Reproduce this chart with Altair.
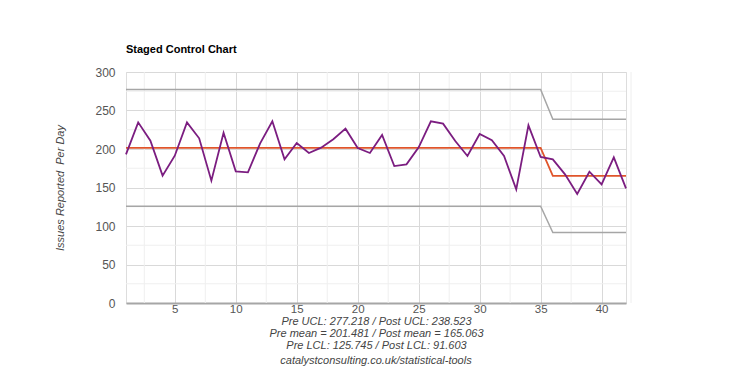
import altair as alt
import pandas as pd

# Observations (day index 1..42)
days = list(range(1, 43))
values = [193, 234.6, 210.8, 165.4, 191.3, 234.6, 213.9, 158.9, 221.2, 171,
          169.7, 207.4, 236, 186.6, 207.8, 194.8, 201.7, 212.6, 226.4, 201.3,
          194.8, 218.2, 177.9, 180.1, 202.2, 236, 232.9, 210.4, 190.9, 219.5,
          211.3, 190.9, 147.6, 230.7, 189.6, 186.6, 167.1, 141.6, 170.5, 154.1,
          189.2, 148.9]

# Stage statistics
pre_n = 35
pre_ucl, post_ucl = 277.218, 238.523
pre_mean, post_mean = 201.481, 165.063
pre_lcl, post_lcl = 125.745, 91.603

ucl = [pre_ucl if d <= pre_n else post_ucl for d in days]
mean = [pre_mean if d <= pre_n else post_mean for d in days]
lcl = [pre_lcl if d <= pre_n else post_lcl for d in days]

# Axis ticks and minor gridlines
x_major = [5, 10, 15, 20, 25, 30, 35, 40]
x_minor = [2.5, 7.5, 12.5, 17.5, 22.5, 27.5, 32.5, 37.5]
y_major = [0, 50, 100, 150, 200, 250, 300]
y_minor = [25, 75, 125, 175, 225, 275]

source_note = ["catalystconsulting.co.uk/statistical-tools"]

df = pd.DataFrame({"day": days, "value": values, "ucl": ucl, "mean": mean, "lcl": lcl})
df_xminor = pd.DataFrame({"day": x_minor})
df_yminor = pd.DataFrame({"value": y_minor})
df_note = pd.DataFrame({"note": source_note})

FONT = "Liberation Sans"
W, H = 500, 231

x_scale = alt.Scale(domain=[1, 42], nice=False, zero=False)
y_scale = alt.Scale(domain=[0, 300], nice=False)

bottom_title = [
    f"Pre UCL: {pre_ucl} / Post UCL: {post_ucl}",
    f"Pre mean = {pre_mean} / Post mean = {post_mean}",
    f"Pre LCL: {pre_lcl} / Post LCL: {post_lcl}",
]

x_axis = alt.Axis(
    values=x_major,
    format="d",
    labelOverlap=False,
    grid=True,
    gridColor="#d9d9d9",
    ticks=False,
    domain=True,
    domainColor="#a6a6a6",
    domainWidth=2,
    labelColor="#555555",
    labelFontSize=11.5,
    labelFont=FONT,
    labelPadding=0,
    title=bottom_title,
    titleFont=FONT,
    titleFontSize=11,
    titleFontStyle="italic",
    titleFontWeight="normal",
    titleColor="#444444",
    titleLineHeight=12,
    titleBaseline="alphabetic",
    titleY=21,
    titleX=W / 2,
    titleAlign="center",
)

y_axis = alt.Axis(
    values=y_major,
    format="d",
    labelOverlap=False,
    grid=True,
    gridColor="#d9d9d9",
    ticks=False,
    domain=False,
    labelColor="#555555",
    labelFontSize=12,
    labelFont=FONT,
    labelPadding=11,
    title="Issues Reported\u00a0 Per Day",
    titleFont=FONT,
    titleFontSize=11,
    titleFontStyle="italic",
    titleFontWeight="normal",
    titleColor="#444444",
    titleX=-66,
    titleY=H / 2,
    titleAlign="center",
    titleBaseline="middle",
    titleAngle=270,
)


def X(field):
    return alt.X(f"{field}:Q", scale=x_scale, axis=x_axis)


def Y(field):
    return alt.Y(f"{field}:Q", scale=y_scale, axis=y_axis)


base = alt.Chart(df)

xminor_rules = alt.Chart(df_xminor).mark_rule(color="#efefef", strokeWidth=1).encode(x=X("day"))
yminor_rules = alt.Chart(df_yminor).mark_rule(color="#efefef", strokeWidth=1).encode(y=Y("value"))
edge = alt.Chart(pd.DataFrame({"a": [0]})).mark_rule(color="#eeeeee", strokeWidth=1).encode(
    x=alt.value(505), y=alt.value(0), y2=alt.value(H)
)

ucl_line = base.mark_line(color="#a6a6a6", strokeWidth=1.5).encode(x=X("day"), y=Y("ucl"))
lcl_line = base.mark_line(color="#a6a6a6", strokeWidth=1.5).encode(x=X("day"), y=Y("lcl"))
mean_line = base.mark_line(color="#e0552b", strokeWidth=1.8).encode(x=X("day"), y=Y("mean"))
data_line = base.mark_line(color="#7b1d80", strokeWidth=1.8).encode(x=X("day"), y=Y("value"))

note = alt.Chart(df_note).mark_text(
    font=FONT, fontSize=11, fontStyle="italic", color="#444444",
    align="center", baseline="alphabetic",
).encode(
    text="note:N",
    x=alt.value(W / 2),
    y=alt.value(H + 61),
)

chart = alt.layer(
    xminor_rules, yminor_rules, edge, ucl_line, lcl_line, mean_line, data_line, note
).properties(
    width=W,
    height=H,
    title=alt.TitleParams(
        "Staged Control Chart",
        anchor="start",
        frame="group",
        font=FONT,
        fontSize=11,
        fontWeight="bold",
        color="#000000",
        offset=11,
    ),
    autosize=alt.AutoSizeParams(type="none"),
    padding={"left": 118, "top": 64, "right": 10, "bottom": 64},
).configure_view(stroke=None).configure(background="white")

chart.save("out.html", embed_options={"renderer": "svg", "actions": False})
